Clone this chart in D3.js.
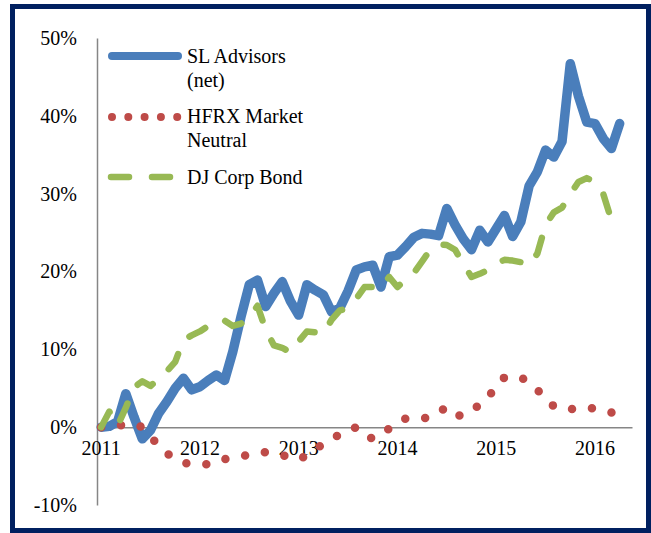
<!DOCTYPE html>
<html>
<head>
<meta charset="utf-8">
<script src="https://cdn.jsdelivr.net/npm/d3@7"></script>
<style>
  html, body { margin: 0; padding: 0; background: #fff; }
  svg { display: block; }
  text { font-family: "Liberation Serif", "Times New Roman", serif; fill: #000; }
</style>
</head>
<body>
<svg id="chart" width="651" height="533"></svg>
<script>
const months = [
  "Jan-11","Feb-11","Mar-11","Apr-11","May-11","Jun-11","Jul-11","Aug-11","Sep-11","Oct-11","Nov-11","Dec-11",
  "Jan-12","Feb-12","Mar-12","Apr-12","May-12","Jun-12","Jul-12","Aug-12","Sep-12","Oct-12","Nov-12","Dec-12",
  "Jan-13","Feb-13","Mar-13","Apr-13","May-13","Jun-13","Jul-13","Aug-13","Sep-13","Oct-13","Nov-13","Dec-13",
  "Jan-14","Feb-14","Mar-14","Apr-14","May-14","Jun-14","Jul-14","Aug-14","Sep-14","Oct-14","Nov-14","Dec-14",
  "Jan-15","Feb-15","Mar-15","Apr-15","May-15","Jun-15","Jul-15","Aug-15","Sep-15","Oct-15","Nov-15","Dec-15",
  "Jan-16","Feb-16","Mar-16","Apr-16","May-16"
];
const slAdvisors = [0, 0.1, 0.7, 4.3, 1.3, -1.5, -0.4, 1.8, 3.3, 5.0,
  6.3, 4.8, 5.2, 6.0, 6.7, 6.0, 9.7, 14.2, 18.3, 18.9,
  15.5, 17.2, 18.7, 16.2, 14.4, 18.3, 17.6, 17.0, 14.8, 15.3,
  17.5, 20.2, 20.6, 20.8, 18.0, 21.9, 22.1, 23.2, 24.4, 24.9,
  24.8, 24.6, 28.1, 26.0, 24.2, 22.8, 25.3, 23.8, 25.5, 27.2,
  24.5, 26.4, 31.0, 32.8, 35.6, 34.7, 36.7, 46.7, 42.5, 39.2,
  39.0, 37.1, 35.8, 39.0];
const hfrxMarketNeutral = [0, 0.1, 0.2, 0.3, 0.4, 0, -1.2, -2.4, -3.4, -4.0,
  -4.6, -4.7, -4.7, -4.8, -4.5, -4.1, -3.9, -3.7, -3.6, -3.4,
  -3.2, -3.3, -3.6, -3.9, -4.2, -3.6, -2.8, -2.2, -1.6, -0.9,
  -0.4, 0, -1.0, -1.5, -0.8, -0.2, 0.5, 1.1, 1.1, 1.1,
  1.3, 2.0, 2.5, 1.5, 1.5, 2.3, 2.8, 3.8, 5.3, 6.4,
  6.5, 6.4, 5.7, 4.8, 3.6, 2.7, 2.3, 2.3, 2.4, 2.5,
  2.4, 2.2, 1.9, 1.6];
const djCorpBond = [0, 2.0, 0.2, 2.5, 5.1, 5.9, 5.3, 6.2, 7.2, 8.4,
  11.2, 11.8, 12.3, 13.0, 13.6, 13.7, 13.0, 13.3, 14.0, 15.6,
  12.5, 10.5, 10.2, 9.6, 11.0, 12.3, 12.2, 12.0, 13.8, 15.0,
  15.3, 16.5, 18.0, 18.0, 17.8, 19.3, 18.0, 19.0, 19.8, 21.3,
  22.8, 23.5, 23.4, 22.8, 21.0, 19.3, 19.7, 20.2, 21.0, 21.5,
  21.4, 21.2, 20.8, 22.3, 26.0, 27.6, 28.2, 30.0, 31.5, 32.0,
  31.5, 30.0, 26.6, 27.5];
const yTicks = [-10, 0, 10, 20, 30, 40, 50];
const yearLabels = ["2011", "2012", "2013", "2014", "2015", "2016"];
const yearCategories = ["Jan-11", "Jan-12", "Jan-13", "Jan-14", "Jan-15", "Jan-16"];
const seriesNames = [["SL Advisors", "(net)"], ["HFRX Market", "Neutral"], ["DJ Corp Bond"]];

const FONT = "'Liberation Serif', 'Times New Roman', serif";
const svg = d3.select("#chart");
const W = 651, H = 533;

// border
svg.append("rect").attr("x", 0).attr("y", 0).attr("width", W).attr("height", H).attr("fill", "#fff");
svg.append("rect")
  .attr("x", 12.5).attr("y", 6.5).attr("width", 636).attr("height", 524)
  .attr("fill", "#fff").attr("stroke", "#002060").attr("stroke-width", 5);

const x = d3.scaleBand().domain(months).range([97, 632]).padding(0);
const y = d3.scaleLinear().domain([-10, 50]).range([505, 38]);
const cx = m => x(m) + x.bandwidth() / 2;

// Y axis
const yAxis = d3.axisLeft(y).tickValues(yTicks).tickSize(0).tickPadding(20)
  .tickFormat(d => d + "%");
const gy = svg.append("g").attr("transform", "translate(97,0)").call(yAxis);
gy.attr("font-family", FONT);
gy.select(".domain").attr("stroke", "#868686").attr("stroke-width", 1.5);
gy.selectAll("text").attr("font-size", 20).attr("font-family", FONT).attr("fill", "#000");

// X axis at zero
const xAxis = d3.axisBottom(x).tickValues(yearCategories).tickSize(0).tickPadding(14)
  .tickFormat((d, i) => yearLabels[i]);
const gx = svg.append("g").attr("transform", `translate(0,${y(0)})`).call(xAxis);
gx.attr("font-family", FONT);
gx.select(".domain").attr("stroke", "#868686").attr("stroke-width", 1.5);
gx.selectAll(".tick text").attr("font-size", 20).attr("font-family", FONT).attr("fill", "#000");

const line = d3.line().x((d, i) => cx(months[i])).y(d => y(d));

svg.append("path").datum(slAdvisors).attr("d", line)
  .attr("fill", "none").attr("stroke", "#4a7ebb").attr("stroke-width", 9.5)
  .attr("stroke-linejoin", "round").attr("stroke-linecap", "round");
svg.append("path").datum(hfrxMarketNeutral).attr("d", line)
  .attr("fill", "none").attr("stroke", "#be4b48").attr("stroke-width", 8.5)
  .attr("stroke-linecap", "round").attr("stroke-dasharray", "0 20");
svg.append("path").datum(djCorpBond).attr("d", line)
  .attr("fill", "none").attr("stroke", "#98b954").attr("stroke-width", 6.5)
  .attr("stroke-linejoin", "round").attr("stroke-linecap", "round")
  .attr("stroke-dasharray", "18 22");

// Legend
const lg = svg.append("g");
lg.append("line").attr("x1", 112).attr("x2", 178).attr("y1", 56).attr("y2", 56)
  .attr("stroke", "#4a7ebb").attr("stroke-width", 8).attr("stroke-linecap", "round");
lg.append("line").attr("x1", 112).attr("x2", 178).attr("y1", 117).attr("y2", 117)
  .attr("stroke", "#be4b48").attr("stroke-width", 8).attr("stroke-linecap", "round")
  .attr("stroke-dasharray", "0 16.3");
lg.append("line").attr("x1", 111).attr("x2", 171).attr("y1", 177).attr("y2", 177)
  .attr("stroke", "#98b954").attr("stroke-width", 6.5).attr("stroke-linecap", "round")
  .attr("stroke-dasharray", "18 23");
const baselines = [[63, 86.5], [123, 147], [184]];
seriesNames.forEach((lines, k) => {
  lines.forEach((t, j) => {
    lg.append("text").attr("x", 187).attr("y", baselines[k][j])
      .attr("font-family", FONT).attr("font-size", 20).attr("fill", "#000").text(t);
  });
});
</script>
</body>
</html>
